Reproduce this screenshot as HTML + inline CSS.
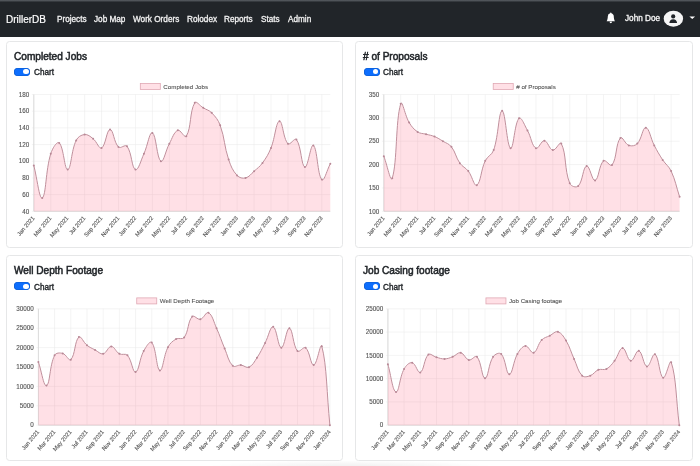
<!DOCTYPE html>
<html><head><meta charset="utf-8">
<style>
html,body{margin:0;padding:0;}
body{width:700px;height:466px;overflow:hidden;background:#fff;position:relative;font-family:"Liberation Sans",sans-serif;}
.nav{position:absolute;left:0;top:0;width:700px;height:36.5px;background:linear-gradient(#555a5f 0px,#4a4f54 1px,#212529 2px,#212529 100%);}
.t{position:absolute;white-space:nowrap;line-height:1;will-change:transform;}
.brand{font-size:10px;color:#fff;-webkit-text-stroke:0.2px #fff;}
.nl{font-size:8.2px;color:#f2f2f2;-webkit-text-stroke:0.3px #f2f2f2;}
.card{position:absolute;border:1px solid #e6e7e8;border-radius:3.5px;background:#fff;box-sizing:border-box;}
.title{font-size:10.1px;color:#212529;-webkit-text-stroke:0.5px #212529;}
.sw{position:absolute;width:16px;height:8px;border-radius:4px;background:#0d6efd;box-shadow:inset 0 0 0 0.6px #0a58ca;}
.sw::after{content:"";position:absolute;right:1.4px;top:1.4px;width:5.2px;height:5.2px;border-radius:50%;background:#fff;}
.ch{font-size:8.2px;color:#212529;-webkit-text-stroke:0.35px #212529;}
svg{position:absolute;left:0;top:0;}
.g{stroke:#e9e9e9;stroke-width:0.5;}
.ax{stroke:#dcdcdc;stroke-width:1;}
.yl{font-size:6.3px;fill:#555;stroke:#555;stroke-width:0.12;text-anchor:end;font-family:"Liberation Sans",sans-serif;}
.xl{font-size:5.8px;fill:#555;stroke:#555;stroke-width:0.12;text-anchor:end;font-family:"Liberation Sans",sans-serif;}
.lt{font-size:6.2px;fill:#555;stroke:#555;stroke-width:0.1;font-family:"Liberation Sans",sans-serif;}
.lb{fill:rgba(255,99,132,0.2);stroke:#e0a8b4;stroke-width:0.8;}
.fl{fill:rgba(255,99,132,0.2);stroke:none;}
.ln{fill:none;stroke:#bf909c;stroke-width:1;}
.pt{fill:#b88896;stroke:none;}
</style></head><body>
<div class="nav"></div>
<div style="position:absolute;left:200px;top:461px;width:300px;height:5px;background:radial-gradient(ellipse 150px 8px at 150px 7px, rgba(0,0,0,0.07), rgba(0,0,0,0));"></div>
<div class="t brand" style="left:5.5px;top:14.6px;">DrillerDB</div>
<div class="t nl" style="left:56.5px;top:15.5px;">Projects</div>
<div class="t nl" style="left:93.6px;top:15.5px;">Job Map</div>
<div class="t nl" style="left:133.4px;top:15.5px;">Work Orders</div>
<div class="t nl" style="left:187.4px;top:15.5px;">Rolodex</div>
<div class="t nl" style="left:223.8px;top:15.5px;">Reports</div>
<div class="t nl" style="left:260.6px;top:15.5px;">Stats</div>
<div class="t nl" style="left:287.6px;top:15.5px;">Admin</div>
<div class="t nl" style="left:624.5px;top:14.5px;color:#fff;">John Doe</div>
<svg width="700" height="36" style="position:absolute;left:0;top:0">
 <path transform="translate(606.0,12.6) scale(0.6,0.66)" d="M8 16a2 2 0 0 0 2-2H6a2 2 0 0 0 2 2zm.995-14.901a1 1 0 1 0-1.99 0A5.002 5.002 0 0 0 3 6c0 1.098-.5 6-2 7h14c-1.5-1-2-5.902-2-7 0-2.42-1.72-4.44-4.005-4.901z" fill="#fff"/>
 <ellipse cx="673.4" cy="18.7" rx="9.7" ry="8" fill="#f6f6f6"/>
 <circle cx="673.2" cy="16.4" r="2.1" fill="#212529"/>
 <path d="M669.3,23 c0.2,-2.4 1.6,-3.8 3.9,-3.8 c2.3,0 3.7,1.4 3.9,3.8 z" fill="#212529"/>
 <path d="M689.4,16.6 h5.7 l-2.85,2.5z" fill="#fff"/>
</svg>
<div class="card" style="left:6px;top:41px;width:337px;height:206.5px;"></div>
<div class="card" style="left:355px;top:41px;width:337.5px;height:206.5px;"></div>
<div class="card" style="left:6px;top:255.3px;width:337px;height:206px;"></div>
<div class="card" style="left:355px;top:255.3px;width:337.5px;height:206px;"></div>
<div class="t title" style="left:14px;top:52px;">Completed Jobs</div>
<div class="t title" style="left:363px;top:52px;">&#35; of Proposals</div>
<div class="t title" style="left:14px;top:266.4px;">Well Depth Footage</div>
<div class="t title" style="left:363px;top:266.4px;">Job Casing footage</div>
<div class="sw" style="left:14px;top:67.8px;"></div>
<div class="sw" style="left:363.5px;top:67.8px;"></div>
<div class="sw" style="left:14px;top:282.2px;"></div>
<div class="sw" style="left:363.5px;top:282.2px;"></div>
<div class="t ch" style="left:34.2px;top:69.2px;">Chart</div>
<div class="t ch" style="left:383.3px;top:69.2px;">Chart</div>
<div class="t ch" style="left:34.2px;top:283.6px;">Chart</div>
<div class="t ch" style="left:383.3px;top:283.6px;">Chart</div>
<svg width="700" height="466">
<line x1="31.80" y1="211.30" x2="330.30" y2="211.30" class="g"/>
<text x="29.20" y="213.50" class="yl">40</text>
<line x1="31.80" y1="194.61" x2="330.30" y2="194.61" class="g"/>
<text x="29.20" y="196.81" class="yl">60</text>
<line x1="31.80" y1="177.93" x2="330.30" y2="177.93" class="g"/>
<text x="29.20" y="180.13" class="yl">80</text>
<line x1="31.80" y1="161.24" x2="330.30" y2="161.24" class="g"/>
<text x="29.20" y="163.44" class="yl">100</text>
<line x1="31.80" y1="144.56" x2="330.30" y2="144.56" class="g"/>
<text x="29.20" y="146.76" class="yl">120</text>
<line x1="31.80" y1="127.87" x2="330.30" y2="127.87" class="g"/>
<text x="29.20" y="130.07" class="yl">140</text>
<line x1="31.80" y1="111.19" x2="330.30" y2="111.19" class="g"/>
<text x="29.20" y="113.39" class="yl">160</text>
<line x1="31.80" y1="94.50" x2="330.30" y2="94.50" class="g"/>
<text x="29.20" y="96.70" class="yl">180</text>
<line x1="33.80" y1="94.50" x2="33.80" y2="211.30" class="g"/>
<text transform="translate(35.00,218.20) rotate(-50)" class="xl">Jan 2021</text>
<line x1="50.74" y1="94.50" x2="50.74" y2="211.30" class="g"/>
<text transform="translate(51.94,218.20) rotate(-50)" class="xl">Mar 2021</text>
<line x1="67.69" y1="94.50" x2="67.69" y2="211.30" class="g"/>
<text transform="translate(68.89,218.20) rotate(-50)" class="xl">May 2021</text>
<line x1="84.63" y1="94.50" x2="84.63" y2="211.30" class="g"/>
<text transform="translate(85.83,218.20) rotate(-50)" class="xl">Jul 2021</text>
<line x1="101.57" y1="94.50" x2="101.57" y2="211.30" class="g"/>
<text transform="translate(102.77,218.20) rotate(-50)" class="xl">Sep 2021</text>
<line x1="118.51" y1="94.50" x2="118.51" y2="211.30" class="g"/>
<text transform="translate(119.71,218.20) rotate(-50)" class="xl">Nov 2021</text>
<line x1="135.46" y1="94.50" x2="135.46" y2="211.30" class="g"/>
<text transform="translate(136.66,218.20) rotate(-50)" class="xl">Jan 2022</text>
<line x1="152.40" y1="94.50" x2="152.40" y2="211.30" class="g"/>
<text transform="translate(153.60,218.20) rotate(-50)" class="xl">Mar 2022</text>
<line x1="169.34" y1="94.50" x2="169.34" y2="211.30" class="g"/>
<text transform="translate(170.54,218.20) rotate(-50)" class="xl">May 2022</text>
<line x1="186.29" y1="94.50" x2="186.29" y2="211.30" class="g"/>
<text transform="translate(187.49,218.20) rotate(-50)" class="xl">Jul 2022</text>
<line x1="203.23" y1="94.50" x2="203.23" y2="211.30" class="g"/>
<text transform="translate(204.43,218.20) rotate(-50)" class="xl">Sep 2022</text>
<line x1="220.17" y1="94.50" x2="220.17" y2="211.30" class="g"/>
<text transform="translate(221.37,218.20) rotate(-50)" class="xl">Nov 2022</text>
<line x1="237.11" y1="94.50" x2="237.11" y2="211.30" class="g"/>
<text transform="translate(238.31,218.20) rotate(-50)" class="xl">Jan 2023</text>
<line x1="254.06" y1="94.50" x2="254.06" y2="211.30" class="g"/>
<text transform="translate(255.26,218.20) rotate(-50)" class="xl">Mar 2023</text>
<line x1="271.00" y1="94.50" x2="271.00" y2="211.30" class="g"/>
<text transform="translate(272.20,218.20) rotate(-50)" class="xl">May 2023</text>
<line x1="287.94" y1="94.50" x2="287.94" y2="211.30" class="g"/>
<text transform="translate(289.14,218.20) rotate(-50)" class="xl">Jul 2023</text>
<line x1="304.89" y1="94.50" x2="304.89" y2="211.30" class="g"/>
<text transform="translate(306.09,218.20) rotate(-50)" class="xl">Sep 2023</text>
<line x1="321.83" y1="94.50" x2="321.83" y2="211.30" class="g"/>
<text transform="translate(323.03,218.20) rotate(-50)" class="xl">Nov 2023</text>
<line x1="33.80" y1="94.50" x2="33.80" y2="211.30" class="ax"/>
<line x1="33.80" y1="211.30" x2="330.30" y2="211.30" class="ax"/>
<path d="M33.80,165.41 C37.19,178.43 39.37,199.95 42.27,197.95 C46.15,195.28 45.55,170.60 50.74,153.73 C52.33,148.58 56.98,140.80 59.21,142.89 C63.76,147.14 64.44,170.07 67.69,169.59 C71.21,169.06 71.09,150.86 76.16,140.39 C77.87,136.84 81.09,134.89 84.63,134.55 C87.87,134.23 90.18,136.42 93.10,138.72 C96.96,141.76 98.98,149.30 101.57,147.89 C105.76,145.63 106.59,129.71 110.04,129.54 C113.37,129.38 113.80,142.42 118.51,147.06 C120.58,149.09 125.26,143.93 126.99,146.23 C132.03,152.94 131.52,167.84 135.46,169.59 C138.30,170.85 140.92,160.25 143.93,153.73 C147.70,145.57 149.47,131.58 152.40,132.88 C156.25,134.58 156.78,158.63 160.87,161.24 C163.56,162.96 165.60,150.54 169.34,143.72 C172.38,138.19 173.71,132.19 177.81,130.37 C180.49,129.19 184.73,138.75 186.29,136.21 C191.50,127.74 189.49,111.67 194.76,102.84 C196.26,100.32 199.84,105.85 203.23,107.85 C206.62,109.85 209.03,110.09 211.70,112.85 C215.80,117.10 218.14,119.76 220.17,125.37 C224.91,138.45 224.15,146.31 228.64,159.57 C230.93,166.34 232.57,170.50 237.11,175.43 C239.35,177.84 242.53,178.68 245.59,177.93 C249.31,177.01 250.83,174.11 254.06,171.25 C257.61,168.10 259.76,166.73 262.53,162.91 C266.54,157.38 268.42,154.25 271.00,147.89 C275.19,137.57 275.83,122.09 279.47,121.20 C282.60,120.43 283.08,138.45 287.94,143.72 C289.85,145.79 294.74,137.24 296.41,139.55 C301.52,146.59 301.14,165.79 304.89,167.08 C307.92,168.13 310.66,143.40 313.36,145.39 C317.44,148.41 317.34,174.74 321.83,179.60 C324.12,182.08 326.91,170.09 330.30,163.75 L330.30,211.30 L33.80,211.30 Z" class="fl"/>
<path d="M33.80,165.41 C37.19,178.43 39.37,199.95 42.27,197.95 C46.15,195.28 45.55,170.60 50.74,153.73 C52.33,148.58 56.98,140.80 59.21,142.89 C63.76,147.14 64.44,170.07 67.69,169.59 C71.21,169.06 71.09,150.86 76.16,140.39 C77.87,136.84 81.09,134.89 84.63,134.55 C87.87,134.23 90.18,136.42 93.10,138.72 C96.96,141.76 98.98,149.30 101.57,147.89 C105.76,145.63 106.59,129.71 110.04,129.54 C113.37,129.38 113.80,142.42 118.51,147.06 C120.58,149.09 125.26,143.93 126.99,146.23 C132.03,152.94 131.52,167.84 135.46,169.59 C138.30,170.85 140.92,160.25 143.93,153.73 C147.70,145.57 149.47,131.58 152.40,132.88 C156.25,134.58 156.78,158.63 160.87,161.24 C163.56,162.96 165.60,150.54 169.34,143.72 C172.38,138.19 173.71,132.19 177.81,130.37 C180.49,129.19 184.73,138.75 186.29,136.21 C191.50,127.74 189.49,111.67 194.76,102.84 C196.26,100.32 199.84,105.85 203.23,107.85 C206.62,109.85 209.03,110.09 211.70,112.85 C215.80,117.10 218.14,119.76 220.17,125.37 C224.91,138.45 224.15,146.31 228.64,159.57 C230.93,166.34 232.57,170.50 237.11,175.43 C239.35,177.84 242.53,178.68 245.59,177.93 C249.31,177.01 250.83,174.11 254.06,171.25 C257.61,168.10 259.76,166.73 262.53,162.91 C266.54,157.38 268.42,154.25 271.00,147.89 C275.19,137.57 275.83,122.09 279.47,121.20 C282.60,120.43 283.08,138.45 287.94,143.72 C289.85,145.79 294.74,137.24 296.41,139.55 C301.52,146.59 301.14,165.79 304.89,167.08 C307.92,168.13 310.66,143.40 313.36,145.39 C317.44,148.41 317.34,174.74 321.83,179.60 C324.12,182.08 326.91,170.09 330.30,163.75" class="ln"/>
<circle cx="33.80" cy="165.41" r="1" class="pt"/>
<circle cx="42.27" cy="197.95" r="1" class="pt"/>
<circle cx="50.74" cy="153.73" r="1" class="pt"/>
<circle cx="59.21" cy="142.89" r="1" class="pt"/>
<circle cx="67.69" cy="169.59" r="1" class="pt"/>
<circle cx="76.16" cy="140.39" r="1" class="pt"/>
<circle cx="84.63" cy="134.55" r="1" class="pt"/>
<circle cx="93.10" cy="138.72" r="1" class="pt"/>
<circle cx="101.57" cy="147.89" r="1" class="pt"/>
<circle cx="110.04" cy="129.54" r="1" class="pt"/>
<circle cx="118.51" cy="147.06" r="1" class="pt"/>
<circle cx="126.99" cy="146.23" r="1" class="pt"/>
<circle cx="135.46" cy="169.59" r="1" class="pt"/>
<circle cx="143.93" cy="153.73" r="1" class="pt"/>
<circle cx="152.40" cy="132.88" r="1" class="pt"/>
<circle cx="160.87" cy="161.24" r="1" class="pt"/>
<circle cx="169.34" cy="143.72" r="1" class="pt"/>
<circle cx="177.81" cy="130.37" r="1" class="pt"/>
<circle cx="186.29" cy="136.21" r="1" class="pt"/>
<circle cx="194.76" cy="102.84" r="1" class="pt"/>
<circle cx="203.23" cy="107.85" r="1" class="pt"/>
<circle cx="211.70" cy="112.85" r="1" class="pt"/>
<circle cx="220.17" cy="125.37" r="1" class="pt"/>
<circle cx="228.64" cy="159.57" r="1" class="pt"/>
<circle cx="237.11" cy="175.43" r="1" class="pt"/>
<circle cx="245.59" cy="177.93" r="1" class="pt"/>
<circle cx="254.06" cy="171.25" r="1" class="pt"/>
<circle cx="262.53" cy="162.91" r="1" class="pt"/>
<circle cx="271.00" cy="147.89" r="1" class="pt"/>
<circle cx="279.47" cy="121.20" r="1" class="pt"/>
<circle cx="287.94" cy="143.72" r="1" class="pt"/>
<circle cx="296.41" cy="139.55" r="1" class="pt"/>
<circle cx="304.89" cy="167.08" r="1" class="pt"/>
<circle cx="313.36" cy="145.39" r="1" class="pt"/>
<circle cx="321.83" cy="179.60" r="1" class="pt"/>
<circle cx="330.30" cy="163.75" r="1" class="pt"/>
<rect x="140.32" y="83.50" width="20" height="6" class="lb"/>
<text x="163.32" y="88.60" class="lt">Completed Jobs</text>
<line x1="381.80" y1="211.30" x2="679.60" y2="211.30" class="g"/>
<text x="379.20" y="213.50" class="yl">100</text>
<line x1="381.80" y1="187.94" x2="679.60" y2="187.94" class="g"/>
<text x="379.20" y="190.14" class="yl">150</text>
<line x1="381.80" y1="164.58" x2="679.60" y2="164.58" class="g"/>
<text x="379.20" y="166.78" class="yl">200</text>
<line x1="381.80" y1="141.22" x2="679.60" y2="141.22" class="g"/>
<text x="379.20" y="143.42" class="yl">250</text>
<line x1="381.80" y1="117.86" x2="679.60" y2="117.86" class="g"/>
<text x="379.20" y="120.06" class="yl">300</text>
<line x1="381.80" y1="94.50" x2="679.60" y2="94.50" class="g"/>
<text x="379.20" y="96.70" class="yl">350</text>
<line x1="383.80" y1="94.50" x2="383.80" y2="211.30" class="g"/>
<text transform="translate(385.00,218.20) rotate(-50)" class="xl">Jan 2021</text>
<line x1="400.70" y1="94.50" x2="400.70" y2="211.30" class="g"/>
<text transform="translate(401.90,218.20) rotate(-50)" class="xl">Mar 2021</text>
<line x1="417.61" y1="94.50" x2="417.61" y2="211.30" class="g"/>
<text transform="translate(418.81,218.20) rotate(-50)" class="xl">May 2021</text>
<line x1="434.51" y1="94.50" x2="434.51" y2="211.30" class="g"/>
<text transform="translate(435.71,218.20) rotate(-50)" class="xl">Jul 2021</text>
<line x1="451.41" y1="94.50" x2="451.41" y2="211.30" class="g"/>
<text transform="translate(452.61,218.20) rotate(-50)" class="xl">Sep 2021</text>
<line x1="468.31" y1="94.50" x2="468.31" y2="211.30" class="g"/>
<text transform="translate(469.51,218.20) rotate(-50)" class="xl">Nov 2021</text>
<line x1="485.22" y1="94.50" x2="485.22" y2="211.30" class="g"/>
<text transform="translate(486.42,218.20) rotate(-50)" class="xl">Jan 2022</text>
<line x1="502.12" y1="94.50" x2="502.12" y2="211.30" class="g"/>
<text transform="translate(503.32,218.20) rotate(-50)" class="xl">Mar 2022</text>
<line x1="519.02" y1="94.50" x2="519.02" y2="211.30" class="g"/>
<text transform="translate(520.22,218.20) rotate(-50)" class="xl">May 2022</text>
<line x1="535.93" y1="94.50" x2="535.93" y2="211.30" class="g"/>
<text transform="translate(537.13,218.20) rotate(-50)" class="xl">Jul 2022</text>
<line x1="552.83" y1="94.50" x2="552.83" y2="211.30" class="g"/>
<text transform="translate(554.03,218.20) rotate(-50)" class="xl">Sep 2022</text>
<line x1="569.73" y1="94.50" x2="569.73" y2="211.30" class="g"/>
<text transform="translate(570.93,218.20) rotate(-50)" class="xl">Nov 2022</text>
<line x1="586.63" y1="94.50" x2="586.63" y2="211.30" class="g"/>
<text transform="translate(587.83,218.20) rotate(-50)" class="xl">Jan 2023</text>
<line x1="603.54" y1="94.50" x2="603.54" y2="211.30" class="g"/>
<text transform="translate(604.74,218.20) rotate(-50)" class="xl">Mar 2023</text>
<line x1="620.44" y1="94.50" x2="620.44" y2="211.30" class="g"/>
<text transform="translate(621.64,218.20) rotate(-50)" class="xl">May 2023</text>
<line x1="637.34" y1="94.50" x2="637.34" y2="211.30" class="g"/>
<text transform="translate(638.54,218.20) rotate(-50)" class="xl">Jul 2023</text>
<line x1="654.25" y1="94.50" x2="654.25" y2="211.30" class="g"/>
<text transform="translate(655.45,218.20) rotate(-50)" class="xl">Sep 2023</text>
<line x1="671.15" y1="94.50" x2="671.15" y2="211.30" class="g"/>
<text transform="translate(672.35,218.20) rotate(-50)" class="xl">Nov 2023</text>
<line x1="383.80" y1="94.50" x2="383.80" y2="211.30" class="ax"/>
<line x1="383.80" y1="211.30" x2="679.60" y2="211.30" class="ax"/>
<path d="M383.80,156.17 C387.18,164.95 390.63,183.14 392.25,178.13 C397.39,162.21 395.40,121.30 400.70,103.84 C402.16,99.06 404.97,115.59 409.15,122.53 C411.73,126.80 413.62,129.12 417.61,131.88 C420.38,133.79 422.68,133.28 426.06,134.21 C429.44,135.15 431.29,135.21 434.51,136.55 C438.05,138.02 439.66,139.21 442.96,141.22 C446.42,143.33 449.01,143.71 451.41,146.83 C455.77,152.49 455.72,157.22 459.86,163.18 C462.48,166.93 465.51,167.48 468.31,171.12 C472.27,176.26 474.14,186.74 476.77,185.14 C480.90,182.62 480.80,169.99 485.22,160.84 C487.56,155.98 491.95,155.18 493.67,150.10 C498.71,135.18 498.66,111.23 502.12,110.85 C505.42,110.49 506.84,146.58 510.57,148.23 C513.60,149.57 514.44,123.14 519.02,118.33 C521.20,116.04 524.57,125.34 527.47,130.47 C531.33,137.30 531.63,145.62 535.93,148.23 C538.39,149.73 541.18,140.40 544.38,140.75 C547.94,141.15 549.17,149.49 552.83,150.10 C555.93,150.61 559.87,140.79 561.28,143.56 C566.63,154.06 564.19,169.32 569.73,183.27 C570.95,186.33 576.22,188.08 578.18,186.07 C582.98,181.16 582.81,167.25 586.63,165.98 C589.57,165.01 592.11,181.37 595.09,180.46 C598.87,179.31 598.85,165.12 603.54,160.84 C605.61,158.95 610.30,167.33 611.99,165.05 C617.06,158.18 615.60,143.57 620.44,137.95 C622.36,135.72 625.07,144.16 628.89,145.42 C631.83,146.40 635.15,145.86 637.34,143.56 C641.91,138.76 642.56,127.31 645.79,127.67 C649.32,128.06 650.60,138.47 654.25,145.42 C657.36,151.36 659.02,154.31 662.70,159.91 C665.78,164.59 668.84,166.08 671.15,171.12 C675.60,180.84 676.22,186.54 679.60,196.82 L679.60,211.30 L383.80,211.30 Z" class="fl"/>
<path d="M383.80,156.17 C387.18,164.95 390.63,183.14 392.25,178.13 C397.39,162.21 395.40,121.30 400.70,103.84 C402.16,99.06 404.97,115.59 409.15,122.53 C411.73,126.80 413.62,129.12 417.61,131.88 C420.38,133.79 422.68,133.28 426.06,134.21 C429.44,135.15 431.29,135.21 434.51,136.55 C438.05,138.02 439.66,139.21 442.96,141.22 C446.42,143.33 449.01,143.71 451.41,146.83 C455.77,152.49 455.72,157.22 459.86,163.18 C462.48,166.93 465.51,167.48 468.31,171.12 C472.27,176.26 474.14,186.74 476.77,185.14 C480.90,182.62 480.80,169.99 485.22,160.84 C487.56,155.98 491.95,155.18 493.67,150.10 C498.71,135.18 498.66,111.23 502.12,110.85 C505.42,110.49 506.84,146.58 510.57,148.23 C513.60,149.57 514.44,123.14 519.02,118.33 C521.20,116.04 524.57,125.34 527.47,130.47 C531.33,137.30 531.63,145.62 535.93,148.23 C538.39,149.73 541.18,140.40 544.38,140.75 C547.94,141.15 549.17,149.49 552.83,150.10 C555.93,150.61 559.87,140.79 561.28,143.56 C566.63,154.06 564.19,169.32 569.73,183.27 C570.95,186.33 576.22,188.08 578.18,186.07 C582.98,181.16 582.81,167.25 586.63,165.98 C589.57,165.01 592.11,181.37 595.09,180.46 C598.87,179.31 598.85,165.12 603.54,160.84 C605.61,158.95 610.30,167.33 611.99,165.05 C617.06,158.18 615.60,143.57 620.44,137.95 C622.36,135.72 625.07,144.16 628.89,145.42 C631.83,146.40 635.15,145.86 637.34,143.56 C641.91,138.76 642.56,127.31 645.79,127.67 C649.32,128.06 650.60,138.47 654.25,145.42 C657.36,151.36 659.02,154.31 662.70,159.91 C665.78,164.59 668.84,166.08 671.15,171.12 C675.60,180.84 676.22,186.54 679.60,196.82" class="ln"/>
<circle cx="383.80" cy="156.17" r="1" class="pt"/>
<circle cx="392.25" cy="178.13" r="1" class="pt"/>
<circle cx="400.70" cy="103.84" r="1" class="pt"/>
<circle cx="409.15" cy="122.53" r="1" class="pt"/>
<circle cx="417.61" cy="131.88" r="1" class="pt"/>
<circle cx="426.06" cy="134.21" r="1" class="pt"/>
<circle cx="434.51" cy="136.55" r="1" class="pt"/>
<circle cx="442.96" cy="141.22" r="1" class="pt"/>
<circle cx="451.41" cy="146.83" r="1" class="pt"/>
<circle cx="459.86" cy="163.18" r="1" class="pt"/>
<circle cx="468.31" cy="171.12" r="1" class="pt"/>
<circle cx="476.77" cy="185.14" r="1" class="pt"/>
<circle cx="485.22" cy="160.84" r="1" class="pt"/>
<circle cx="493.67" cy="150.10" r="1" class="pt"/>
<circle cx="502.12" cy="110.85" r="1" class="pt"/>
<circle cx="510.57" cy="148.23" r="1" class="pt"/>
<circle cx="519.02" cy="118.33" r="1" class="pt"/>
<circle cx="527.47" cy="130.47" r="1" class="pt"/>
<circle cx="535.93" cy="148.23" r="1" class="pt"/>
<circle cx="544.38" cy="140.75" r="1" class="pt"/>
<circle cx="552.83" cy="150.10" r="1" class="pt"/>
<circle cx="561.28" cy="143.56" r="1" class="pt"/>
<circle cx="569.73" cy="183.27" r="1" class="pt"/>
<circle cx="578.18" cy="186.07" r="1" class="pt"/>
<circle cx="586.63" cy="165.98" r="1" class="pt"/>
<circle cx="595.09" cy="180.46" r="1" class="pt"/>
<circle cx="603.54" cy="160.84" r="1" class="pt"/>
<circle cx="611.99" cy="165.05" r="1" class="pt"/>
<circle cx="620.44" cy="137.95" r="1" class="pt"/>
<circle cx="628.89" cy="145.42" r="1" class="pt"/>
<circle cx="637.34" cy="143.56" r="1" class="pt"/>
<circle cx="645.79" cy="127.67" r="1" class="pt"/>
<circle cx="654.25" cy="145.42" r="1" class="pt"/>
<circle cx="662.70" cy="159.91" r="1" class="pt"/>
<circle cx="671.15" cy="171.12" r="1" class="pt"/>
<circle cx="679.60" cy="196.82" r="1" class="pt"/>
<rect x="493.22" y="83.50" width="20" height="6" class="lb"/>
<text x="516.22" y="88.60" class="lt"># of Proposals</text>
<line x1="36.40" y1="425.20" x2="329.90" y2="425.20" class="g"/>
<text x="33.80" y="427.40" class="yl">0</text>
<line x1="36.40" y1="405.80" x2="329.90" y2="405.80" class="g"/>
<text x="33.80" y="408.00" class="yl">5000</text>
<line x1="36.40" y1="386.40" x2="329.90" y2="386.40" class="g"/>
<text x="33.80" y="388.60" class="yl">10000</text>
<line x1="36.40" y1="367.00" x2="329.90" y2="367.00" class="g"/>
<text x="33.80" y="369.20" class="yl">15000</text>
<line x1="36.40" y1="347.60" x2="329.90" y2="347.60" class="g"/>
<text x="33.80" y="349.80" class="yl">20000</text>
<line x1="36.40" y1="328.20" x2="329.90" y2="328.20" class="g"/>
<text x="33.80" y="330.40" class="yl">25000</text>
<line x1="36.40" y1="308.80" x2="329.90" y2="308.80" class="g"/>
<text x="33.80" y="311.00" class="yl">30000</text>
<line x1="38.40" y1="308.80" x2="38.40" y2="425.20" class="g"/>
<text transform="translate(39.60,432.10) rotate(-50)" class="xl">Jan 2021</text>
<line x1="54.59" y1="308.80" x2="54.59" y2="425.20" class="g"/>
<text transform="translate(55.79,432.10) rotate(-50)" class="xl">Mar 2021</text>
<line x1="70.79" y1="308.80" x2="70.79" y2="425.20" class="g"/>
<text transform="translate(71.99,432.10) rotate(-50)" class="xl">May 2021</text>
<line x1="86.98" y1="308.80" x2="86.98" y2="425.20" class="g"/>
<text transform="translate(88.18,432.10) rotate(-50)" class="xl">Jul 2021</text>
<line x1="103.18" y1="308.80" x2="103.18" y2="425.20" class="g"/>
<text transform="translate(104.38,432.10) rotate(-50)" class="xl">Sep 2021</text>
<line x1="119.37" y1="308.80" x2="119.37" y2="425.20" class="g"/>
<text transform="translate(120.57,432.10) rotate(-50)" class="xl">Nov 2021</text>
<line x1="135.57" y1="308.80" x2="135.57" y2="425.20" class="g"/>
<text transform="translate(136.77,432.10) rotate(-50)" class="xl">Jan 2022</text>
<line x1="151.76" y1="308.80" x2="151.76" y2="425.20" class="g"/>
<text transform="translate(152.96,432.10) rotate(-50)" class="xl">Mar 2022</text>
<line x1="167.96" y1="308.80" x2="167.96" y2="425.20" class="g"/>
<text transform="translate(169.16,432.10) rotate(-50)" class="xl">May 2022</text>
<line x1="184.15" y1="308.80" x2="184.15" y2="425.20" class="g"/>
<text transform="translate(185.35,432.10) rotate(-50)" class="xl">Jul 2022</text>
<line x1="200.34" y1="308.80" x2="200.34" y2="425.20" class="g"/>
<text transform="translate(201.54,432.10) rotate(-50)" class="xl">Sep 2022</text>
<line x1="216.54" y1="308.80" x2="216.54" y2="425.20" class="g"/>
<text transform="translate(217.74,432.10) rotate(-50)" class="xl">Nov 2022</text>
<line x1="232.73" y1="308.80" x2="232.73" y2="425.20" class="g"/>
<text transform="translate(233.93,432.10) rotate(-50)" class="xl">Jan 2023</text>
<line x1="248.93" y1="308.80" x2="248.93" y2="425.20" class="g"/>
<text transform="translate(250.13,432.10) rotate(-50)" class="xl">Mar 2023</text>
<line x1="265.12" y1="308.80" x2="265.12" y2="425.20" class="g"/>
<text transform="translate(266.32,432.10) rotate(-50)" class="xl">May 2023</text>
<line x1="281.32" y1="308.80" x2="281.32" y2="425.20" class="g"/>
<text transform="translate(282.52,432.10) rotate(-50)" class="xl">Jul 2023</text>
<line x1="297.51" y1="308.80" x2="297.51" y2="425.20" class="g"/>
<text transform="translate(298.71,432.10) rotate(-50)" class="xl">Sep 2023</text>
<line x1="313.71" y1="308.80" x2="313.71" y2="425.20" class="g"/>
<text transform="translate(314.91,432.10) rotate(-50)" class="xl">Nov 2023</text>
<line x1="329.90" y1="308.80" x2="329.90" y2="425.20" class="g"/>
<text transform="translate(331.10,432.10) rotate(-50)" class="xl">Jan 2024</text>
<line x1="38.40" y1="308.80" x2="38.40" y2="425.20" class="ax"/>
<line x1="38.40" y1="425.20" x2="329.90" y2="425.20" class="ax"/>
<path d="M38.40,361.96 C41.64,371.42 43.62,386.80 46.50,385.62 C50.10,384.16 49.48,365.54 54.59,355.36 C55.95,352.66 59.78,352.65 62.69,353.42 C66.26,354.36 68.85,361.58 70.79,359.63 C75.33,355.06 74.51,341.00 78.89,337.12 C80.99,335.26 83.41,342.45 86.98,345.27 C89.89,347.57 91.78,348.19 95.08,349.93 C98.26,351.60 100.26,354.44 103.18,353.81 C106.74,353.04 108.04,346.44 111.28,346.44 C114.51,346.44 115.68,351.77 119.37,353.81 C122.15,355.34 125.48,353.12 127.47,355.36 C131.95,360.41 132.64,372.82 135.57,372.04 C139.11,371.11 139.41,358.83 143.66,351.09 C145.89,347.04 149.90,340.32 151.76,342.56 C156.37,348.08 156.35,369.48 159.86,370.49 C162.83,371.35 163.54,355.79 167.96,347.21 C170.01,343.22 172.28,341.32 176.05,339.06 C178.76,337.44 182.41,339.93 184.15,337.51 C188.89,330.93 187.55,321.84 192.25,316.56 C194.03,314.55 197.43,319.97 200.34,319.28 C203.91,318.42 206.02,311.35 208.44,312.68 C212.50,314.92 213.65,321.83 216.54,328.20 C220.13,336.11 221.20,340.39 224.64,348.38 C227.68,355.45 228.18,361.15 232.73,365.84 C234.66,367.82 237.64,364.79 240.83,365.06 C244.12,365.34 246.33,368.38 248.93,367.19 C252.81,365.43 254.27,361.82 257.02,357.69 C260.74,352.12 262.00,348.90 265.12,342.94 C268.47,336.56 270.34,325.98 273.22,326.84 C276.81,327.92 277.98,347.51 281.32,347.79 C284.46,348.06 286.39,327.59 289.41,328.20 C292.87,328.90 292.75,345.33 297.51,351.09 C299.23,353.17 303.57,346.04 305.61,347.79 C310.05,351.62 310.58,365.36 313.71,365.06 C317.06,364.74 320.47,341.31 321.80,346.24 C326.95,365.36 326.66,393.62 329.90,425.20 L329.90,425.20 L38.40,425.20 Z" class="fl"/>
<path d="M38.40,361.96 C41.64,371.42 43.62,386.80 46.50,385.62 C50.10,384.16 49.48,365.54 54.59,355.36 C55.95,352.66 59.78,352.65 62.69,353.42 C66.26,354.36 68.85,361.58 70.79,359.63 C75.33,355.06 74.51,341.00 78.89,337.12 C80.99,335.26 83.41,342.45 86.98,345.27 C89.89,347.57 91.78,348.19 95.08,349.93 C98.26,351.60 100.26,354.44 103.18,353.81 C106.74,353.04 108.04,346.44 111.28,346.44 C114.51,346.44 115.68,351.77 119.37,353.81 C122.15,355.34 125.48,353.12 127.47,355.36 C131.95,360.41 132.64,372.82 135.57,372.04 C139.11,371.11 139.41,358.83 143.66,351.09 C145.89,347.04 149.90,340.32 151.76,342.56 C156.37,348.08 156.35,369.48 159.86,370.49 C162.83,371.35 163.54,355.79 167.96,347.21 C170.01,343.22 172.28,341.32 176.05,339.06 C178.76,337.44 182.41,339.93 184.15,337.51 C188.89,330.93 187.55,321.84 192.25,316.56 C194.03,314.55 197.43,319.97 200.34,319.28 C203.91,318.42 206.02,311.35 208.44,312.68 C212.50,314.92 213.65,321.83 216.54,328.20 C220.13,336.11 221.20,340.39 224.64,348.38 C227.68,355.45 228.18,361.15 232.73,365.84 C234.66,367.82 237.64,364.79 240.83,365.06 C244.12,365.34 246.33,368.38 248.93,367.19 C252.81,365.43 254.27,361.82 257.02,357.69 C260.74,352.12 262.00,348.90 265.12,342.94 C268.47,336.56 270.34,325.98 273.22,326.84 C276.81,327.92 277.98,347.51 281.32,347.79 C284.46,348.06 286.39,327.59 289.41,328.20 C292.87,328.90 292.75,345.33 297.51,351.09 C299.23,353.17 303.57,346.04 305.61,347.79 C310.05,351.62 310.58,365.36 313.71,365.06 C317.06,364.74 320.47,341.31 321.80,346.24 C326.95,365.36 326.66,393.62 329.90,425.20" class="ln"/>
<circle cx="38.40" cy="361.96" r="1" class="pt"/>
<circle cx="46.50" cy="385.62" r="1" class="pt"/>
<circle cx="54.59" cy="355.36" r="1" class="pt"/>
<circle cx="62.69" cy="353.42" r="1" class="pt"/>
<circle cx="70.79" cy="359.63" r="1" class="pt"/>
<circle cx="78.89" cy="337.12" r="1" class="pt"/>
<circle cx="86.98" cy="345.27" r="1" class="pt"/>
<circle cx="95.08" cy="349.93" r="1" class="pt"/>
<circle cx="103.18" cy="353.81" r="1" class="pt"/>
<circle cx="111.28" cy="346.44" r="1" class="pt"/>
<circle cx="119.37" cy="353.81" r="1" class="pt"/>
<circle cx="127.47" cy="355.36" r="1" class="pt"/>
<circle cx="135.57" cy="372.04" r="1" class="pt"/>
<circle cx="143.66" cy="351.09" r="1" class="pt"/>
<circle cx="151.76" cy="342.56" r="1" class="pt"/>
<circle cx="159.86" cy="370.49" r="1" class="pt"/>
<circle cx="167.96" cy="347.21" r="1" class="pt"/>
<circle cx="176.05" cy="339.06" r="1" class="pt"/>
<circle cx="184.15" cy="337.51" r="1" class="pt"/>
<circle cx="192.25" cy="316.56" r="1" class="pt"/>
<circle cx="200.34" cy="319.28" r="1" class="pt"/>
<circle cx="208.44" cy="312.68" r="1" class="pt"/>
<circle cx="216.54" cy="328.20" r="1" class="pt"/>
<circle cx="224.64" cy="348.38" r="1" class="pt"/>
<circle cx="232.73" cy="365.84" r="1" class="pt"/>
<circle cx="240.83" cy="365.06" r="1" class="pt"/>
<circle cx="248.93" cy="367.19" r="1" class="pt"/>
<circle cx="257.02" cy="357.69" r="1" class="pt"/>
<circle cx="265.12" cy="342.94" r="1" class="pt"/>
<circle cx="273.22" cy="326.84" r="1" class="pt"/>
<circle cx="281.32" cy="347.79" r="1" class="pt"/>
<circle cx="289.41" cy="328.20" r="1" class="pt"/>
<circle cx="297.51" cy="351.09" r="1" class="pt"/>
<circle cx="305.61" cy="347.79" r="1" class="pt"/>
<circle cx="313.71" cy="365.06" r="1" class="pt"/>
<circle cx="321.80" cy="346.24" r="1" class="pt"/>
<circle cx="329.90" cy="425.20" r="1" class="pt"/>
<rect x="136.74" y="297.90" width="20" height="6" class="lb"/>
<text x="159.74" y="303.00" class="lt">Well Depth Footage</text>
<line x1="385.90" y1="425.20" x2="679.30" y2="425.20" class="g"/>
<text x="383.30" y="427.40" class="yl">0</text>
<line x1="385.90" y1="401.92" x2="679.30" y2="401.92" class="g"/>
<text x="383.30" y="404.12" class="yl">5000</text>
<line x1="385.90" y1="378.64" x2="679.30" y2="378.64" class="g"/>
<text x="383.30" y="380.84" class="yl">10000</text>
<line x1="385.90" y1="355.36" x2="679.30" y2="355.36" class="g"/>
<text x="383.30" y="357.56" class="yl">15000</text>
<line x1="385.90" y1="332.08" x2="679.30" y2="332.08" class="g"/>
<text x="383.30" y="334.28" class="yl">20000</text>
<line x1="385.90" y1="308.80" x2="679.30" y2="308.80" class="g"/>
<text x="383.30" y="311.00" class="yl">25000</text>
<line x1="387.90" y1="308.80" x2="387.90" y2="425.20" class="g"/>
<text transform="translate(389.10,432.10) rotate(-50)" class="xl">Jan 2021</text>
<line x1="404.09" y1="308.80" x2="404.09" y2="425.20" class="g"/>
<text transform="translate(405.29,432.10) rotate(-50)" class="xl">Mar 2021</text>
<line x1="420.28" y1="308.80" x2="420.28" y2="425.20" class="g"/>
<text transform="translate(421.48,432.10) rotate(-50)" class="xl">May 2021</text>
<line x1="436.47" y1="308.80" x2="436.47" y2="425.20" class="g"/>
<text transform="translate(437.67,432.10) rotate(-50)" class="xl">Jul 2021</text>
<line x1="452.66" y1="308.80" x2="452.66" y2="425.20" class="g"/>
<text transform="translate(453.86,432.10) rotate(-50)" class="xl">Sep 2021</text>
<line x1="468.84" y1="308.80" x2="468.84" y2="425.20" class="g"/>
<text transform="translate(470.04,432.10) rotate(-50)" class="xl">Nov 2021</text>
<line x1="485.03" y1="308.80" x2="485.03" y2="425.20" class="g"/>
<text transform="translate(486.23,432.10) rotate(-50)" class="xl">Jan 2022</text>
<line x1="501.22" y1="308.80" x2="501.22" y2="425.20" class="g"/>
<text transform="translate(502.42,432.10) rotate(-50)" class="xl">Mar 2022</text>
<line x1="517.41" y1="308.80" x2="517.41" y2="425.20" class="g"/>
<text transform="translate(518.61,432.10) rotate(-50)" class="xl">May 2022</text>
<line x1="533.60" y1="308.80" x2="533.60" y2="425.20" class="g"/>
<text transform="translate(534.80,432.10) rotate(-50)" class="xl">Jul 2022</text>
<line x1="549.79" y1="308.80" x2="549.79" y2="425.20" class="g"/>
<text transform="translate(550.99,432.10) rotate(-50)" class="xl">Sep 2022</text>
<line x1="565.98" y1="308.80" x2="565.98" y2="425.20" class="g"/>
<text transform="translate(567.18,432.10) rotate(-50)" class="xl">Nov 2022</text>
<line x1="582.17" y1="308.80" x2="582.17" y2="425.20" class="g"/>
<text transform="translate(583.37,432.10) rotate(-50)" class="xl">Jan 2023</text>
<line x1="598.36" y1="308.80" x2="598.36" y2="425.20" class="g"/>
<text transform="translate(599.56,432.10) rotate(-50)" class="xl">Mar 2023</text>
<line x1="614.54" y1="308.80" x2="614.54" y2="425.20" class="g"/>
<text transform="translate(615.74,432.10) rotate(-50)" class="xl">May 2023</text>
<line x1="630.73" y1="308.80" x2="630.73" y2="425.20" class="g"/>
<text transform="translate(631.93,432.10) rotate(-50)" class="xl">Jul 2023</text>
<line x1="646.92" y1="308.80" x2="646.92" y2="425.20" class="g"/>
<text transform="translate(648.12,432.10) rotate(-50)" class="xl">Sep 2023</text>
<line x1="663.11" y1="308.80" x2="663.11" y2="425.20" class="g"/>
<text transform="translate(664.31,432.10) rotate(-50)" class="xl">Nov 2023</text>
<line x1="679.30" y1="308.80" x2="679.30" y2="425.20" class="g"/>
<text transform="translate(680.50,432.10) rotate(-50)" class="xl">Jan 2024</text>
<line x1="387.90" y1="308.80" x2="387.90" y2="425.20" class="ax"/>
<line x1="387.90" y1="425.20" x2="679.30" y2="425.20" class="ax"/>
<path d="M387.90,364.35 C391.14,375.41 392.49,391.00 395.99,392.00 C398.97,392.85 399.52,377.21 404.09,368.96 C406.00,365.50 409.29,362.10 412.18,362.72 C415.76,363.48 417.74,373.67 420.28,372.40 C424.21,370.43 423.86,358.83 428.37,354.62 C430.34,352.78 433.18,356.40 436.47,357.27 C439.65,358.11 441.35,359.00 444.56,358.90 C447.82,358.80 449.54,357.95 452.66,356.76 C456.02,355.47 457.81,352.11 460.75,352.71 C464.29,353.42 465.25,359.12 468.84,360.02 C471.72,360.74 475.16,354.74 476.94,356.76 C481.64,362.08 481.80,378.36 485.03,378.36 C488.27,378.36 488.40,363.86 493.13,356.76 C494.88,354.12 499.40,352.04 501.22,354.01 C505.88,359.06 506.08,374.31 509.32,374.31 C512.55,374.31 513.16,361.46 517.41,354.01 C519.63,350.12 522.14,346.23 525.51,345.95 C528.61,345.70 530.93,353.69 533.60,352.71 C537.41,351.30 537.67,344.23 541.69,340.00 C544.15,337.41 546.51,337.32 549.79,335.67 C552.99,334.05 555.10,330.97 557.88,331.80 C561.57,332.90 563.57,336.48 565.98,340.51 C570.05,347.32 570.71,351.60 574.07,358.90 C577.19,365.66 577.65,370.99 582.17,375.66 C584.13,377.69 587.36,376.71 590.26,375.66 C593.84,374.36 594.79,371.27 598.36,369.79 C601.26,368.59 603.76,370.45 606.45,368.96 C610.24,366.85 611.74,364.42 614.54,360.81 C618.22,356.07 619.40,348.10 622.64,348.10 C625.88,348.10 627.24,360.22 630.73,360.81 C633.72,361.31 636.09,349.85 638.83,350.80 C642.57,352.10 643.39,365.69 646.92,366.44 C649.86,367.07 652.62,352.57 655.02,354.24 C659.09,357.09 659.31,375.86 663.11,377.76 C665.78,379.08 669.81,358.20 671.21,362.30 C676.28,377.18 676.06,400.04 679.30,425.20 L679.30,425.20 L387.90,425.20 Z" class="fl"/>
<path d="M387.90,364.35 C391.14,375.41 392.49,391.00 395.99,392.00 C398.97,392.85 399.52,377.21 404.09,368.96 C406.00,365.50 409.29,362.10 412.18,362.72 C415.76,363.48 417.74,373.67 420.28,372.40 C424.21,370.43 423.86,358.83 428.37,354.62 C430.34,352.78 433.18,356.40 436.47,357.27 C439.65,358.11 441.35,359.00 444.56,358.90 C447.82,358.80 449.54,357.95 452.66,356.76 C456.02,355.47 457.81,352.11 460.75,352.71 C464.29,353.42 465.25,359.12 468.84,360.02 C471.72,360.74 475.16,354.74 476.94,356.76 C481.64,362.08 481.80,378.36 485.03,378.36 C488.27,378.36 488.40,363.86 493.13,356.76 C494.88,354.12 499.40,352.04 501.22,354.01 C505.88,359.06 506.08,374.31 509.32,374.31 C512.55,374.31 513.16,361.46 517.41,354.01 C519.63,350.12 522.14,346.23 525.51,345.95 C528.61,345.70 530.93,353.69 533.60,352.71 C537.41,351.30 537.67,344.23 541.69,340.00 C544.15,337.41 546.51,337.32 549.79,335.67 C552.99,334.05 555.10,330.97 557.88,331.80 C561.57,332.90 563.57,336.48 565.98,340.51 C570.05,347.32 570.71,351.60 574.07,358.90 C577.19,365.66 577.65,370.99 582.17,375.66 C584.13,377.69 587.36,376.71 590.26,375.66 C593.84,374.36 594.79,371.27 598.36,369.79 C601.26,368.59 603.76,370.45 606.45,368.96 C610.24,366.85 611.74,364.42 614.54,360.81 C618.22,356.07 619.40,348.10 622.64,348.10 C625.88,348.10 627.24,360.22 630.73,360.81 C633.72,361.31 636.09,349.85 638.83,350.80 C642.57,352.10 643.39,365.69 646.92,366.44 C649.86,367.07 652.62,352.57 655.02,354.24 C659.09,357.09 659.31,375.86 663.11,377.76 C665.78,379.08 669.81,358.20 671.21,362.30 C676.28,377.18 676.06,400.04 679.30,425.20" class="ln"/>
<circle cx="387.90" cy="364.35" r="1" class="pt"/>
<circle cx="395.99" cy="392.00" r="1" class="pt"/>
<circle cx="404.09" cy="368.96" r="1" class="pt"/>
<circle cx="412.18" cy="362.72" r="1" class="pt"/>
<circle cx="420.28" cy="372.40" r="1" class="pt"/>
<circle cx="428.37" cy="354.62" r="1" class="pt"/>
<circle cx="436.47" cy="357.27" r="1" class="pt"/>
<circle cx="444.56" cy="358.90" r="1" class="pt"/>
<circle cx="452.66" cy="356.76" r="1" class="pt"/>
<circle cx="460.75" cy="352.71" r="1" class="pt"/>
<circle cx="468.84" cy="360.02" r="1" class="pt"/>
<circle cx="476.94" cy="356.76" r="1" class="pt"/>
<circle cx="485.03" cy="378.36" r="1" class="pt"/>
<circle cx="493.13" cy="356.76" r="1" class="pt"/>
<circle cx="501.22" cy="354.01" r="1" class="pt"/>
<circle cx="509.32" cy="374.31" r="1" class="pt"/>
<circle cx="517.41" cy="354.01" r="1" class="pt"/>
<circle cx="525.51" cy="345.95" r="1" class="pt"/>
<circle cx="533.60" cy="352.71" r="1" class="pt"/>
<circle cx="541.69" cy="340.00" r="1" class="pt"/>
<circle cx="549.79" cy="335.67" r="1" class="pt"/>
<circle cx="557.88" cy="331.80" r="1" class="pt"/>
<circle cx="565.98" cy="340.51" r="1" class="pt"/>
<circle cx="574.07" cy="358.90" r="1" class="pt"/>
<circle cx="582.17" cy="375.66" r="1" class="pt"/>
<circle cx="590.26" cy="375.66" r="1" class="pt"/>
<circle cx="598.36" cy="369.79" r="1" class="pt"/>
<circle cx="606.45" cy="368.96" r="1" class="pt"/>
<circle cx="614.54" cy="360.81" r="1" class="pt"/>
<circle cx="622.64" cy="348.10" r="1" class="pt"/>
<circle cx="630.73" cy="360.81" r="1" class="pt"/>
<circle cx="638.83" cy="350.80" r="1" class="pt"/>
<circle cx="646.92" cy="366.44" r="1" class="pt"/>
<circle cx="655.02" cy="354.24" r="1" class="pt"/>
<circle cx="663.11" cy="377.76" r="1" class="pt"/>
<circle cx="671.21" cy="362.30" r="1" class="pt"/>
<circle cx="679.30" cy="425.20" r="1" class="pt"/>
<rect x="485.95" y="297.90" width="20" height="6" class="lb"/>
<text x="508.95" y="303.00" class="lt">Job Casing footage</text>
</svg>
</body></html>
